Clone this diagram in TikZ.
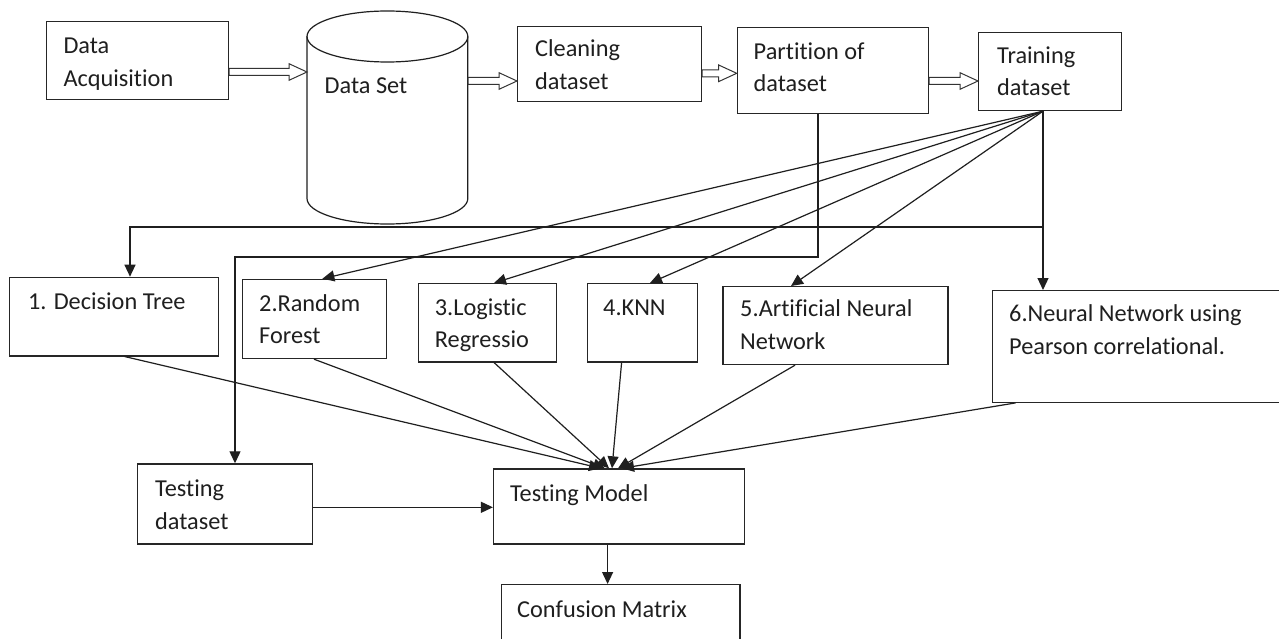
\documentclass[tikz,border=0pt]{standalone}
\usepackage{fontspec}
\setmainfont{Carlito}[Ligatures={NoCommon}]
\usetikzlibrary{arrows.meta,calc}
\begin{document}
\begin{tikzpicture}[x=1pt,y=1pt,
  box/.style={draw=black!85, line width=1.2pt, inner sep=0pt, anchor=north west},
  txt/.style={anchor=base west, inner sep=0pt, text=black!88, font=\fontsize{24.3}{33}\selectfont},
  link/.style={draw=black!88, line width=1.2pt},
  arr/.style={link, -{Triangle[length=12pt,width=11pt]}},
  hollow/.style={draw=black!80, line width=1pt, fill=white,
    to path={let \p1=(\tikztostart), \p2=(\tikztotarget) in
      (\x1,\y1+3.5pt) -- (\x2-18pt,\y1+3.5pt) -- (\x2-18pt,\y1+8.3pt) -- (\x2,\y1)
      -- (\x2-18pt,\y1-8.3pt) -- (\x2-18pt,\y1-3.5pt) -- (\x1,\y1-3.5pt) -- cycle}}
]
\path[use as bounding box, clip] (0,0) rectangle (1279,-639);
\fill[white] (0,0) rectangle (1279,-639);

% ---- top row ----
\node[box, minimum width=182.1pt, minimum height=78.3pt] (da) at (45.7,-21) {};
\node[txt] (da-1) at (63.3,-53.5) {Data};
\node[txt] (da-2) at (63.3,-86.5) {Acquisition};

% data set cylinder
\node[inner sep=0pt, minimum width=160.8pt, minimum height=213pt, anchor=north west] (ds) at (307,-11) {};
\draw[link] (387.4,-36.5) ellipse [x radius=80.4pt, y radius=25.5pt];
\draw[link] (307,-36.5) -- (307,-198.5)
  arc[start angle=180, end angle=360, x radius=80.4pt, y radius=25.5pt] -- (467.8,-36.5);
\node[txt] (ds-1) at (324.5,-94) {Data Set};

\node[box, minimum width=184pt, minimum height=75pt] (clean) at (517,-25.7) {};
\node[txt] (clean-1) at (535,-57) {Cleaning};
\node[txt] (clean-2) at (535,-90) {dataset};

\node[box, minimum width=191.1pt, minimum height=86pt] (part) at (736.7,-27.3) {};
\node[txt] (part-1) at (753.5,-59.3) {Partition of};
\node[txt] (part-2) at (753.5,-92) {dataset};

\node[box, minimum width=142.8pt, minimum height=78.3pt] (train) at (978,-31.7) {};
\node[txt] (train-1) at (997,-63.3) {Training};
\node[txt] (train-2) at (997,-95.7) {dataset};

% hollow block arrows
\draw[hollow] (da.east |- 0,-72) to (ds.west |- 0,-72);
\draw[hollow] (ds.east |- 0,-81) to (clean.west |- 0,-81);
\draw[hollow] (clean.east |- 0,-73.3) to (part.west |- 0,-73.3);
\draw[hollow] (part.east |- 0,-81) to (train.west |- 0,-81);

% ---- models ----
\node[box, minimum width=208.6pt, minimum height=78.6pt] (dt) at (9,-276.7) {};
\node[txt] (dt-1) at (27.8,-309.7) {1. Decision Tree};

\node[box, minimum width=144.4pt, minimum height=79.3pt] (rf) at (241.6,-278.7) {};
\node[txt] (rf-1) at (259,-311) {2.Random};
\node[txt] (rf-2) at (259,-343.7) {Forest};

\node[box, minimum width=138pt, minimum height=78.3pt] (lr) at (418,-283) {};
\node[txt] (lr-1) at (434.7,-315) {3.Logistic};
\node[txt] (lr-2) at (434.7,-347) {Regressio};

\node[box, minimum width=110.5pt, minimum height=78.3pt] (knn) at (586.5,-283) {};
\node[txt] (knn-1) at (603,-315) {4.KNN};

\node[box, minimum width=224.9pt, minimum height=78pt] (ann) at (722.4,-286) {};
\node[txt] (ann-1) at (740,-316) {5.Artificial Neural};
\node[txt] (ann-2) at (740,-349) {Network};

\node[box, minimum width=300pt, minimum height=111.7pt] (nn) at (991.8,-290) {};
\node[txt] (nn-1) at (1009,-321.7) {6.Neural Network using};
\node[txt] (nn-2) at (1009,-354) {Pearson correlational.};

% ---- testing ----
\node[box, minimum width=175pt, minimum height=80pt] (tds) at (137,-463.3) {};
\node[txt] (tds-1) at (155,-496) {Testing};
\node[txt] (tds-2) at (155,-529.3) {dataset};

\node[box, minimum width=250.9pt, minimum height=75pt] (tm) at (492.9,-468.3) {};
\node[txt] (tm-1) at (509.8,-501) {Testing Model};

\node[box, minimum width=238.4pt, minimum height=80pt] (cm) at (500.9,-584) {};
\node[txt] (cm-1) at (517,-617.7) {Confusion Matrix};

% ---- connectors ----
% training set fans out to the models
\draw[arr] (train.south -| 1043,0) -- (rf.north -| 322.4,0);
\draw[arr] (train.south -| 1043,0) -- (lr.north -| 494,0);
\draw[arr] (train.south -| 1043,0) -- (knn.north -| 650,0);
\draw[arr] (train.south -| 1043,0) -- (ann.north -| 791,0);
\draw[arr] (train.south -| 1043,0) -- (nn.north -| 1043,0);
\draw[arr] (train.south -| 1043,0) |- (130,-227) -- (dt.north -| 130,0);

% partition feeds the testing set
\draw[arr] (part.south -| 818,0) |- (235,-257) -- (tds.north -| 235,0);

% models converge on the testing model
\draw[arr] (dt.south -| 124.5,0) -- (tm.north -| 601,0);
\draw[arr] (rf.south -| 314,0) -- (tm.north -| 605,0);
\draw[arr] (lr.south -| 494,0) -- (tm.north -| 609,0);
\draw[arr] (knn.south -| 621.6,0) -- (tm.north -| 612,0);
\draw[arr] (ann.south -| 795,0) -- (tm.north -| 618,0);
\draw[arr] (nn.south -| 1015.5,0) -- (tm.north -| 622,0);

\draw[arr] (tds.east |- 0,-507.3) -- (tm.west |- 0,-507.3);
\draw[arr] (tm.south -| 607.6,0) -- (cm.north -| 607.6,0);
\end{tikzpicture}
\end{document}
